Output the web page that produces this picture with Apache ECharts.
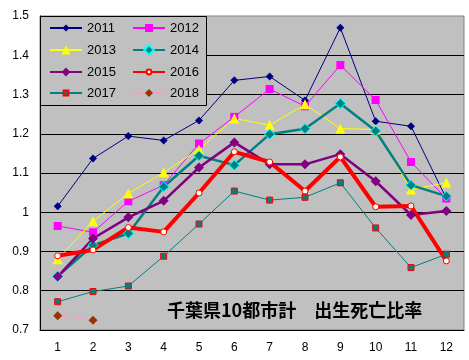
<!DOCTYPE html>
<html><head><meta charset="utf-8">
<script src="https://cdn.jsdelivr.net/npm/echarts@6/dist/echarts.min.js"></script>
<style>html,body{margin:0;padding:0;background:#fff}#c{width:469px;height:360px}</style>
</head><body><div id="c"></div>
<script>
const months = ['1','2','3','4','5','6','7','8','9','10','11','12'];
const titleText = '千葉県10都市計　出生死亡比率';
const years = ['2011','2012','2013','2014','2015','2016','2017','2018'];
const s2011 = [1.015,1.137,1.194,1.183,1.234,1.336,1.346,1.285,1.470,1.232,1.219,1.035];
const s2012 = [0.965,0.949,1.028,1.069,1.175,1.243,1.314,1.270,1.375,1.286,1.128,1.035];
const s2013 = [0.880,0.977,1.048,1.101,1.160,1.239,1.222,1.275,1.213,1.211,1.058,1.075];
const s2014 = [0.837,0.916,0.946,1.065,1.144,1.120,1.199,1.213,1.277,1.207,1.069,1.041];
const s2015 = [0.836,0.933,0.987,1.029,1.114,1.178,1.122,1.122,1.148,1.079,0.993,1.003];
const s2016 = [0.889,0.904,0.961,0.950,1.049,1.154,1.128,1.054,1.141,1.014,1.016,0.876];
const s2017 = [0.772,0.798,0.812,0.888,0.970,1.054,1.031,1.038,1.075,0.960,0.859,0.893];
const s2018 = [0.736,0.725];

function mk(name, data, lineColor, lw, symbol, size, fill, border, bw) {
  return {
    name: name, type: 'line', data: data, symbol: symbol, symbolSize: size,
    lineStyle: {color: lineColor, width: lw},
    itemStyle: {color: fill, borderColor: border, borderWidth: bw},
    emphasis: {disabled: true}, animation: false
  };
}
const series = [
  mk(years[0], s2011, '#000080', 1, 'diamond', 8, '#000080', '#000080', 0),
  mk(years[1], s2012, '#ff00ff', 1, 'rect', 8, '#ff00ff', '#ff00ff', 0),
  mk(years[2], s2013, '#ffff00', 1, 'triangle', 10, '#ffff00', '#ffff00', 0),
  mk(years[3], s2014, '#008080', 2.5, 'diamond', 10, '#008080', '#00ffff', 1),
  mk(years[4], s2015, '#800080', 2.5, 'diamond', 10, '#800080', '#800080', 0),
  mk(years[5], s2016, '#ff0000', 4, 'circle', 6, '#ffffe8', '#ff0000', 1),
  mk(years[6], s2017, '#008080', 1, 'rect', 6, '#008080', '#ff0000', 1),
  mk(years[7], s2018, '#ff99cc', 1, 'diamond', 9, '#993300', '#993300', 0)
];
// legend layout: per-item legend so the icon marker size can differ
const legSym = [9, 10, 11, 12, 11, 6, 6, 10];
const colX = [49, 132];
const rowY = [28, 50, 72, 93];
const legText = {fontSize: 13, color: '#000', fontFamily: 'Liberation Sans'};
const legends = years.map(function (y, i) {
  return {data: [y], left: colX[i % 2], top: rowY[Math.floor(i / 2)] - 6.5,
    padding: 0, itemWidth: 32, itemHeight: legSym[i], textStyle: legText, z: 12};
});
const chart = echarts.init(document.getElementById('c'));
chart.setOption({
  animation: false,
  grid: {left: 40, top: 16, right: 5, bottom: 30, show: true, backgroundColor: '#c0c0c0', borderColor: '#808080', borderWidth: 1},
  legend: legends,
  xAxis: {type: 'category', data: months, boundaryGap: true,
    axisLine: {lineStyle: {color: '#000', width: 1}},
    axisTick: {inside: true, length: 3, lineStyle: {color: '#000'}},
    axisLabel: {color: '#000', fontSize: 12, margin: 12, fontFamily: 'Liberation Sans'},
    splitLine: {show: false}},
  yAxis: {type: 'value', min: 0.7, max: 1.5, interval: 0.1,
    axisLine: {show: true, lineStyle: {color: '#000', width: 1}},
    axisTick: {show: false},
    axisLabel: {color: '#000', fontSize: 12, margin: 11, fontFamily: 'Liberation Sans'},
    splitLine: {show: true, showMaxLine: false, showMinLine: false, lineStyle: {color: '#000', width: 1}}},
  graphic: [
    {type: 'rect', z: 10, shape: {x: 40.5, y: 16.5, width: 166, height: 89},
     style: {fill: '#c0c0c0', stroke: '#000', lineWidth: 1}},
    {type: 'text', left: 167, top: 301, z: 100,
     style: {text: titleText, font: 'bold 18px "Noto Sans CJK JP"', fill: '#000'}}
  ],
  series: series
});
</script></body></html>
